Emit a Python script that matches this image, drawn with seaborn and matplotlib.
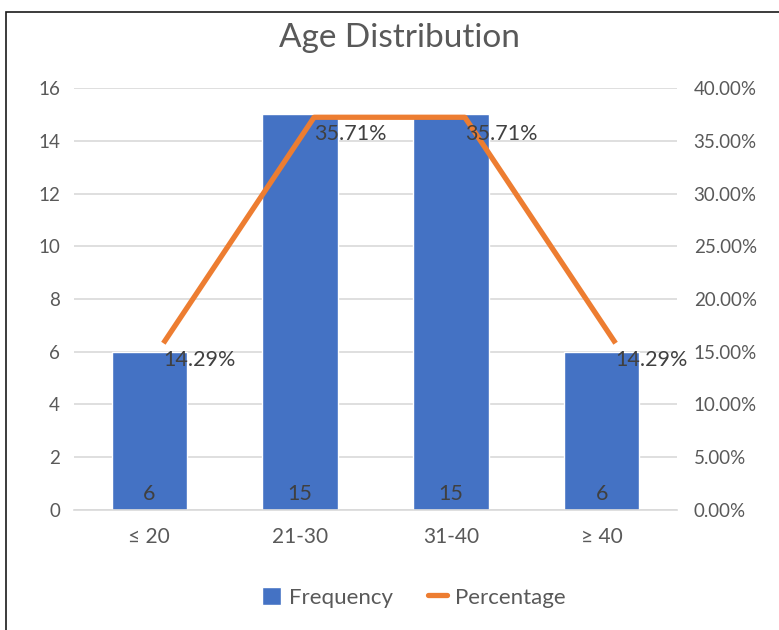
import matplotlib
matplotlib.use('Agg')
import matplotlib.pyplot as plt
import matplotlib.transforms as mtransforms
from matplotlib.patches import Patch, Rectangle
from matplotlib.lines import Line2D
from matplotlib.ticker import FuncFormatter, MultipleLocator
import seaborn as sns

age_groups = ['≤ 20', '21-30', '31-40', '≥ 40']
frequency = [6, 15, 15, 6]
percentage = [14.29, 35.71, 35.71, 14.29]

bar_color = '#4472C4'
line_color = '#ED7D31'
text_color = '#595959'
label_color = '#404040'
grid_color = '#D9D9D9'

sns.set_style('white')
plt.rcParams['font.family'] = ['Lato', 'DejaVu Sans']

fig = plt.figure(figsize=(7.79, 6.3), dpi=100)
ax = fig.add_axes([0.095, 0.1905, 0.774, 0.6698])

sns.barplot(x=age_groups, y=frequency, color=bar_color, width=0.5,
            saturation=1, ax=ax)
ax.set_ylim(0, 16)
ax.yaxis.set_major_locator(MultipleLocator(2))
ax.grid(axis='y', color=grid_color, linewidth=1.2)
ax.set_axisbelow(True)
for s in ['top', 'left', 'right']:
    ax.spines[s].set_visible(False)
ax.spines['bottom'].set_color(grid_color)
ax.spines['bottom'].set_linewidth(1.2)
ax.tick_params(axis='y', length=0, pad=10, labelsize=13.5, labelcolor=text_color)
ax.tick_params(axis='x', length=0, pad=12, labelsize=15, labelcolor=text_color)
ax.set_xlabel('')
ax.set_ylabel('')

# counts at the base of each bar
for i, v in enumerate(frequency):
    ax.annotate(str(v), (i, 0), xytext=(0, 16), textcoords='offset pixels',
                ha='center', va='center', fontsize=15.5, color=label_color)

ax2 = ax.twinx()
sns.lineplot(x=age_groups, y=percentage, sort=False, color=line_color,
             linewidth=3.8, ax=ax2)
shift = mtransforms.offset_copy(ax2.transData, fig=fig, x=14, y=16, units='dots')
ax2.lines[0].set_transform(shift)
ax2.lines[0].set_solid_capstyle('butt')
ax2.set_ylim(0, 40)
ax2.set_xlim(-0.5, 3.5)
ax2.yaxis.set_major_locator(MultipleLocator(5))
ax2.yaxis.set_major_formatter(FuncFormatter(lambda v, p: f'{v:.2f}%'))
for s in ax2.spines.values():
    s.set_visible(False)
ax2.tick_params(axis='y', length=0, pad=12, labelsize=13.5, labelcolor=text_color)
ax2.set_ylabel('')

for i, v in enumerate(percentage):
    ax2.annotate(f'{v:.2f}%', (i, v), xytext=(14, -1), textcoords='offset pixels',
                 ha='left', va='center', fontsize=15.5, color=label_color)

fig.text(0.513, 0.94, 'Age Distribution', ha='center', va='center',
         fontsize=24, color=text_color)

handles = [Patch(facecolor=bar_color, label='Frequency'),
           Line2D([0], [0], color=line_color, linewidth=3.8, label='Percentage')]
fig.legend(handles=handles, loc='center', bbox_to_anchor=(0.531, 0.052), ncol=2,
           frameon=False, fontsize=16, labelcolor=text_color,
           handlelength=0.85, handleheight=0.85, columnspacing=1.6, handletextpad=0.35)

# chart frame
fig.patches.append(Rectangle((6 / 779, -0.1), 1.2, 1 - 12 / 630 + 0.1,
                             transform=fig.transFigure, fill=False,
                             edgecolor='#1a1a1a', linewidth=1.2))

fig.savefig('out.png', dpi=100)
